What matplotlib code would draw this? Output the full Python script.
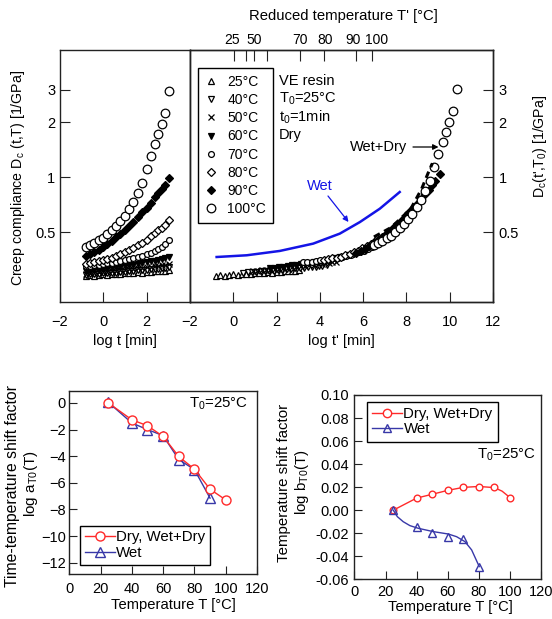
import numpy as np
import matplotlib
matplotlib.use('Agg')
import matplotlib.pyplot as plt
from matplotlib.lines import Line2D
from matplotlib.ticker import FixedLocator, NullLocator, FixedFormatter
from matplotlib.transforms import ScaledTranslation

plt.rcParams['font.family'] = ['Liberation Sans', 'DejaVu Sans']
plt.rcParams['mathtext.fontset'] = 'custom'
plt.rcParams['mathtext.rm'] = 'Liberation Sans'
plt.rcParams['mathtext.it'] = 'Liberation Sans:italic'
plt.rcParams['mathtext.default'] = 'regular'
plt.rcParams['font.size'] = 10

# ---------------- data ----------------
temps = [25, 40, 50, 60, 70, 80, 90, 100]
log_t = [-0.8, -0.6, -0.4, -0.2, 0.0, 0.2, 0.4, 0.6, 0.8, 1.0, 1.2, 1.4, 1.6,
         1.8, 2.0, 2.2, 2.4, 2.55, 2.7, 2.85, 3.05]
D_25 = [0.288, 0.290, 0.289, 0.292, 0.293, 0.292, 0.295, 0.296, 0.295, 0.298, 0.299,
        0.300, 0.301, 0.300, 0.303, 0.304, 0.305, 0.306, 0.305, 0.307, 0.309]
D_40 = [0.292, 0.293, 0.295, 0.294, 0.297, 0.298, 0.300, 0.299, 0.302, 0.304, 0.305,
        0.306, 0.308, 0.309, 0.311, 0.312, 0.314, 0.315, 0.316, 0.318, 0.320]
D_50 = [0.296, 0.298, 0.299, 0.301, 0.302, 0.304, 0.305, 0.307, 0.309, 0.310, 0.312,
        0.314, 0.316, 0.318, 0.320, 0.322, 0.324, 0.326, 0.328, 0.330, 0.333]
D_60 = [0.305, 0.307, 0.309, 0.311, 0.313, 0.315, 0.317, 0.320, 0.322, 0.325, 0.328,
        0.331, 0.334, 0.337, 0.341, 0.345, 0.349, 0.352, 0.356, 0.360, 0.366]
D_70 = [0.325, 0.327, 0.329, 0.332, 0.334, 0.337, 0.340, 0.343, 0.346, 0.350, 0.354,
        0.359, 0.364, 0.370, 0.377, 0.385, 0.394, 0.403, 0.414, 0.430, 0.455]
D_80 = [0.336, 0.339, 0.342, 0.346, 0.350, 0.356, 0.362, 0.370, 0.378, 0.388, 0.399,
        0.411, 0.424, 0.438, 0.455, 0.473, 0.494, 0.510, 0.528, 0.548, 0.580]
D_90 = [0.368, 0.377, 0.387, 0.400, 0.415, 0.430, 0.448, 0.468, 0.490, 0.513, 0.540,
        0.570, 0.605, 0.640, 0.680, 0.725, 0.775, 0.815, 0.860, 0.910, 0.990]
D_100 = [0.416, 0.425, 0.437, 0.450, 0.465, 0.485, 0.510, 0.540, 0.575, 0.615, 0.665,
         0.730, 0.820, 0.930, 1.100, 1.300, 1.520, 1.720, 1.950, 2.250, 2.970]
D_by_T = [D_25, D_40, D_50, D_60, D_70, D_80, D_90, D_100]

# shift factors (Dry, Wet+Dry) and Wet
log_aT_dry = [0.0, -1.26, -1.71, -2.51, -4.02, -4.97, -6.48, -7.28]
T_wet_a = [25, 40, 50, 60, 70, 80, 90]
log_aT_wet = [0.05, -1.5, -2.0, -2.45, -4.25, -5.0, -7.15]
log_bT_dry = [0.0, 0.0109, 0.0138, 0.0175, 0.0204, 0.0204, 0.0200, 0.0109]
T_wet_b = [25, 40, 50, 60, 70, 80]
log_bT_wet = [0.0, -0.0149, -0.0195, -0.0236, -0.0253, -0.0490]

# smooth fitted curves
T_fit_dry = [25, 40, 50, 60, 70, 80, 90, 95, 100]
b_fit_dry = [0.0, 0.0105, 0.0138, 0.0172, 0.0198, 0.0206, 0.0196, 0.0165, 0.0110]
T_fit_wet = [25, 27.6, 31.4, 35.7, 41.0, 50.7, 60.4, 65.7, 71.1, 75.4, 80.3]
b_fit_wet = [0.0, -0.0056, -0.0100, -0.0134, -0.0157, -0.0186, -0.0207, -0.0230,
             -0.0273, -0.0345, -0.0490]

# master curves
wet_master_x = [-0.77, 0.62, 2.15, 3.69, 4.92, 5.85, 6.77, 7.69]
wet_master_D = [0.365, 0.373, 0.394, 0.432, 0.490, 0.567, 0.671, 0.828]
drywet_master_x = [6.5, 7.3, 8.2, 8.7, 9.0, 9.2]
drywet_master_D = [0.47, 0.53, 0.67, 0.86, 1.05, 1.19]

# reduced temperature axis
tprime_pos = [0.03, 0.58, 0.97, 1.57, 3.08, 4.2, 5.65, 6.42]
tprime_labels = ['25', '', '50', '', '70', '80', '90', '100']

temp_labels = [f'{T}°C' for T in temps]

# ---------------- styles ----------------
styles = {
    25: dict(marker='^', mfc='white', mec='black', ms=4.6, mew=0.9),
    40: dict(marker='v', mfc='white', mec='black', ms=4.6, mew=0.9),
    50: dict(marker='x', mfc='none', mec='black', ms=4.6, mew=0.9),
    60: dict(marker='v', mfc='black', mec='black', ms=4.6, mew=0.9),
    70: dict(marker='o', mfc='white', mec='black', ms=4.2, mew=0.9),
    80: dict(marker='D', mfc='white', mec='black', ms=4.2, mew=0.9),
    90: dict(marker='D', mfc='black', mec='black', ms=4.2, mew=0.9),
    100: dict(marker='o', mfc='white', mec='black', ms=6.2, mew=0.9),
}
tprime_label_dx = [-2, 0, 0, 0, 0, 0.7, -3, 4.5]   # px nudges of top labels

W, H = 552, 619
fig = plt.figure(figsize=(W / 100, H / 100), dpi=100)


def rect(x0, y0, x1, y1):
    return [x0 / W, 1 - y1 / H, (x1 - x0) / W, (y1 - y0) / H]


def fpt(px, py):
    return (px / W, 1 - py / H)


SP = '#222222'
TLS = 10.5


def style_axes(ax, length=7):
    for s in ax.spines.values():
        s.set_color(SP)
        s.set_linewidth(1.0)
    ax.tick_params(direction='in', length=length, width=0.8, color=SP,
                   labelsize=TLS)


# ---------------- top-left: raw data ----------------
ax1 = fig.add_axes(rect(59.5, 50, 190, 302))
ax1.set_yscale('log')
for T, D in zip(temps, D_by_T):
    ax1.plot(log_t, D, ls='none', **styles[T])
ax1.set_xlim(-2, 4)
ax1.set_ylim(0.207, 4.96)
ax1.xaxis.set_major_locator(FixedLocator([-2, 0, 2]))
ax1.yaxis.set_major_locator(FixedLocator([0.5, 1, 2, 3]))
ax1.yaxis.set_major_formatter(FixedFormatter(['0.5', '1', '2', '3']))
ax1.yaxis.set_minor_locator(NullLocator())
style_axes(ax1)
ax1.tick_params(axis='x', pad=9.5)
ax1.tick_params(axis='y', pad=3)

# ---------------- top-right: master curve ----------------
ax2 = fig.add_axes(rect(190, 50, 493, 302))
ax2.set_yscale('log')
for T, D, la, lb in zip(temps, D_by_T, log_aT_dry, log_bT_dry):
    ax2.plot(np.array(log_t) - la, np.array(D) * 10 ** lb, ls='none', **styles[T])
ax2.plot(wet_master_x, wet_master_D, color='#1414e6', lw=1.8)
ax2.plot(drywet_master_x, drywet_master_D, color='black', lw=2.2,
         ls=(0, (2.2, 1.6)), zorder=4)
ax2.set_xlim(-2, 12)
ax2.set_ylim(0.207, 4.96)
ax2.xaxis.set_major_locator(FixedLocator([-2, 0, 2, 4, 6, 8, 10, 12]))
ax2.yaxis.set_major_locator(FixedLocator([0.5, 1, 2, 3]))
ax2.yaxis.set_major_formatter(FixedFormatter(['0.5', '1', '2', '3']))
ax2.yaxis.set_minor_locator(NullLocator())
ax2.yaxis.tick_right()
style_axes(ax2)
ax2.tick_params(axis='x', pad=9.5)
ax2.tick_params(axis='y', pad=4)

ax2t = ax2.twiny()
ax2t.set_xlim(-2, 12)
ax2t.xaxis.set_major_locator(FixedLocator(tprime_pos))
ax2t.xaxis.set_major_formatter(FixedFormatter(tprime_labels))
style_axes(ax2t, length=8)
ax2t.tick_params(axis='x', pad=2, labelsize=10)
for lab, dx in zip(ax2t.get_xticklabels(), tprime_label_dx):
    lab.set_transform(lab.get_transform() + ScaledTranslation(dx / 100, 0, fig.dpi_scale_trans))

handles = [Line2D([], [], ls='none', **styles[T]) for T in temps]
leg = ax2.legend(handles, temp_labels, loc='upper left',
                 bbox_to_anchor=fpt(198, 68), bbox_transform=fig.transFigure,
                 frameon=True, fancybox=False, edgecolor='black', framealpha=1,
                 handlelength=0.9, handletextpad=0.7, labelspacing=0.3,
                 borderpad=0.5, borderaxespad=0, fontsize=10)
leg.get_frame().set_linewidth(1.0)

for txt, y in [('VE resin', 81), ('T$_0$=25°C', 99), ('t$_0$=1min', 117), ('Dry', 135)]:
    fig.text(*fpt(279, y), txt, ha='left', va='center', fontsize=10.5)

fig.text(*fpt(320, 186), 'Wet', color='#1414e6', ha='center', va='center', fontsize=10.5)
ax2.annotate('', xy=fpt(348.5, 222), xycoords='figure fraction',
             xytext=fpt(328, 196), textcoords='figure fraction',
             arrowprops=dict(arrowstyle='-|>', color='#1414e6', lw=0.9,
                             mutation_scale=8, shrinkA=0, shrinkB=0))
fig.text(*fpt(379, 147), 'Wet+Dry', ha='center', va='center', fontsize=10.5)
ax2.annotate('', xy=fpt(438.5, 147), xycoords='figure fraction',
             xytext=fpt(413, 147), textcoords='figure fraction',
             arrowprops=dict(arrowstyle='-|>', color='black', lw=0.9,
                             mutation_scale=8, shrinkA=0, shrinkB=0))

fig.text(*fpt(343, 16), "Reduced temperature T' [°C]", ha='center', va='center', fontsize=10.7)
fig.text(*fpt(125, 341), 'log t [min]', ha='center', va='center', fontsize=10.5)
fig.text(*fpt(341, 341), "log t' [min]", ha='center', va='center', fontsize=10.5)
fig.text(*fpt(18.5, 178), 'Creep compliance D$_\\mathrm{c}$ (t,T) [1/GPa]',
         rotation=90, ha='center', va='center', fontsize=10.2)
fig.text(*fpt(540, 146), "D$_\\mathrm{c}$(t',T$_0$) [1/GPa]",
         rotation=90, ha='center', va='center', fontsize=10.2)

# ---------------- bottom-left: log aT ----------------
RED = '#ff2a2a'
BLUE = '#3838a8'
ax3 = fig.add_axes(rect(69.2, 391, 257, 574))
ax3.plot(T_wet_a, log_aT_wet, color=BLUE, lw=1.0, marker='^', ms=6.5, mfc='none',
         mec=BLUE, mew=1.0, label='Wet')
ax3.plot(temps, log_aT_dry, color=RED, lw=1.0, marker='o', ms=6.5, mfc='white',
         mec=RED, mew=1.0, label='Dry, Wet+Dry')
ax3.set_xlim(0, 120)
ax3.set_ylim(-12.85, 0.9)
ax3.xaxis.set_major_locator(FixedLocator([0, 20, 40, 60, 80, 100, 120]))
ax3.yaxis.set_major_locator(FixedLocator([0, -2, -4, -6, -8, -10, -12]))
style_axes(ax3, length=5.5)
ax3.tick_params(axis='x', pad=5.5)
ax3.tick_params(axis='y', pad=2.5)
h3, l3 = ax3.get_legend_handles_labels()
leg3 = ax3.legend(h3[::-1], l3[::-1], loc='upper left', bbox_to_anchor=fpt(80, 526),
                  bbox_transform=fig.transFigure, frameon=True, fancybox=False,
                  edgecolor='black', framealpha=1, handlelength=2.0,
                  handletextpad=0.1, labelspacing=0.1, borderpad=0.3,
                  borderaxespad=0, fontsize=10.8)
leg3.get_frame().set_linewidth(1.0)
fig.text(*fpt(219, 404), 'T$_0$=25°C', ha='center', va='center', fontsize=10.8)
fig.text(*fpt(173, 605), 'Temperature T [°C]', ha='center', va='center', fontsize=10.6)
fig.text(*fpt(13, 486), 'Time-temperature shift factor', rotation=90,
         ha='center', va='center', fontsize=11.3)
fig.text(*fpt(31, 484), 'log a$_\\mathrm{T0}$(T)', rotation=90,
         ha='center', va='center', fontsize=11)

# ---------------- bottom-right: log bT ----------------
ax4 = fig.add_axes(rect(354.4, 395, 541, 579.3))
ax4.plot(T_fit_dry, b_fit_dry, color=RED, lw=1.0)
ax4.plot(temps, log_bT_dry, ls='none', marker='o', ms=4.8, mfc='white', mec=RED, mew=1.0)
ax4.plot(T_fit_wet, b_fit_wet, color=BLUE, lw=1.0)
ax4.plot(T_wet_b, log_bT_wet, ls='none', marker='^', ms=5.2, mfc='none', mec=BLUE, mew=1.0)
ax4.set_xlim(0, 120)
ax4.set_ylim(-0.06, 0.10)
ax4.xaxis.set_major_locator(FixedLocator([0, 20, 40, 60, 80, 100, 120]))
ax4.yaxis.set_major_locator(FixedLocator([-0.06, -0.04, -0.02, 0.0, 0.02, 0.04,
                                          0.06, 0.08, 0.10]))
ax4.yaxis.set_major_formatter(FixedFormatter(['-0.06', '-0.04', '-0.02', '0.00', '0.02',
                                              '0.04', '0.06', '0.08', '0.10']))
style_axes(ax4, length=5.5)
ax4.tick_params(axis='x', pad=4)
ax4.tick_params(axis='y', pad=4)
hdry = Line2D([], [], color=RED, lw=1.0, marker='o', ms=6, mfc='white', mec=RED)
hwet = Line2D([], [], color=BLUE, lw=1.0, marker='^', ms=6, mfc='none', mec=BLUE)
leg4 = ax4.legend([hdry, hwet], ['Dry, Wet+Dry', 'Wet'], loc='upper left',
                  bbox_to_anchor=fpt(366.7, 401.7), bbox_transform=fig.transFigure,
                  frameon=True, fancybox=False, edgecolor='black', framealpha=1,
                  handlelength=2.0, handletextpad=0.1, labelspacing=0.1,
                  borderpad=0.35, borderaxespad=0, fontsize=10.8)
leg4.get_frame().set_linewidth(1.0)
fig.text(*fpt(507, 455), 'T$_0$=25°C', ha='center', va='center', fontsize=10.8)
fig.text(*fpt(450, 607), 'Temperature T [°C]', ha='center', va='center', fontsize=10.6)
fig.text(*fpt(284, 483), 'Temperature shift factor', rotation=90,
         ha='center', va='center', fontsize=10.8)
fig.text(*fpt(302, 482), 'log b$_\\mathrm{T0}$(T)', rotation=90,
         ha='center', va='center', fontsize=10.8)

fig.savefig('out.png', dpi=100)
